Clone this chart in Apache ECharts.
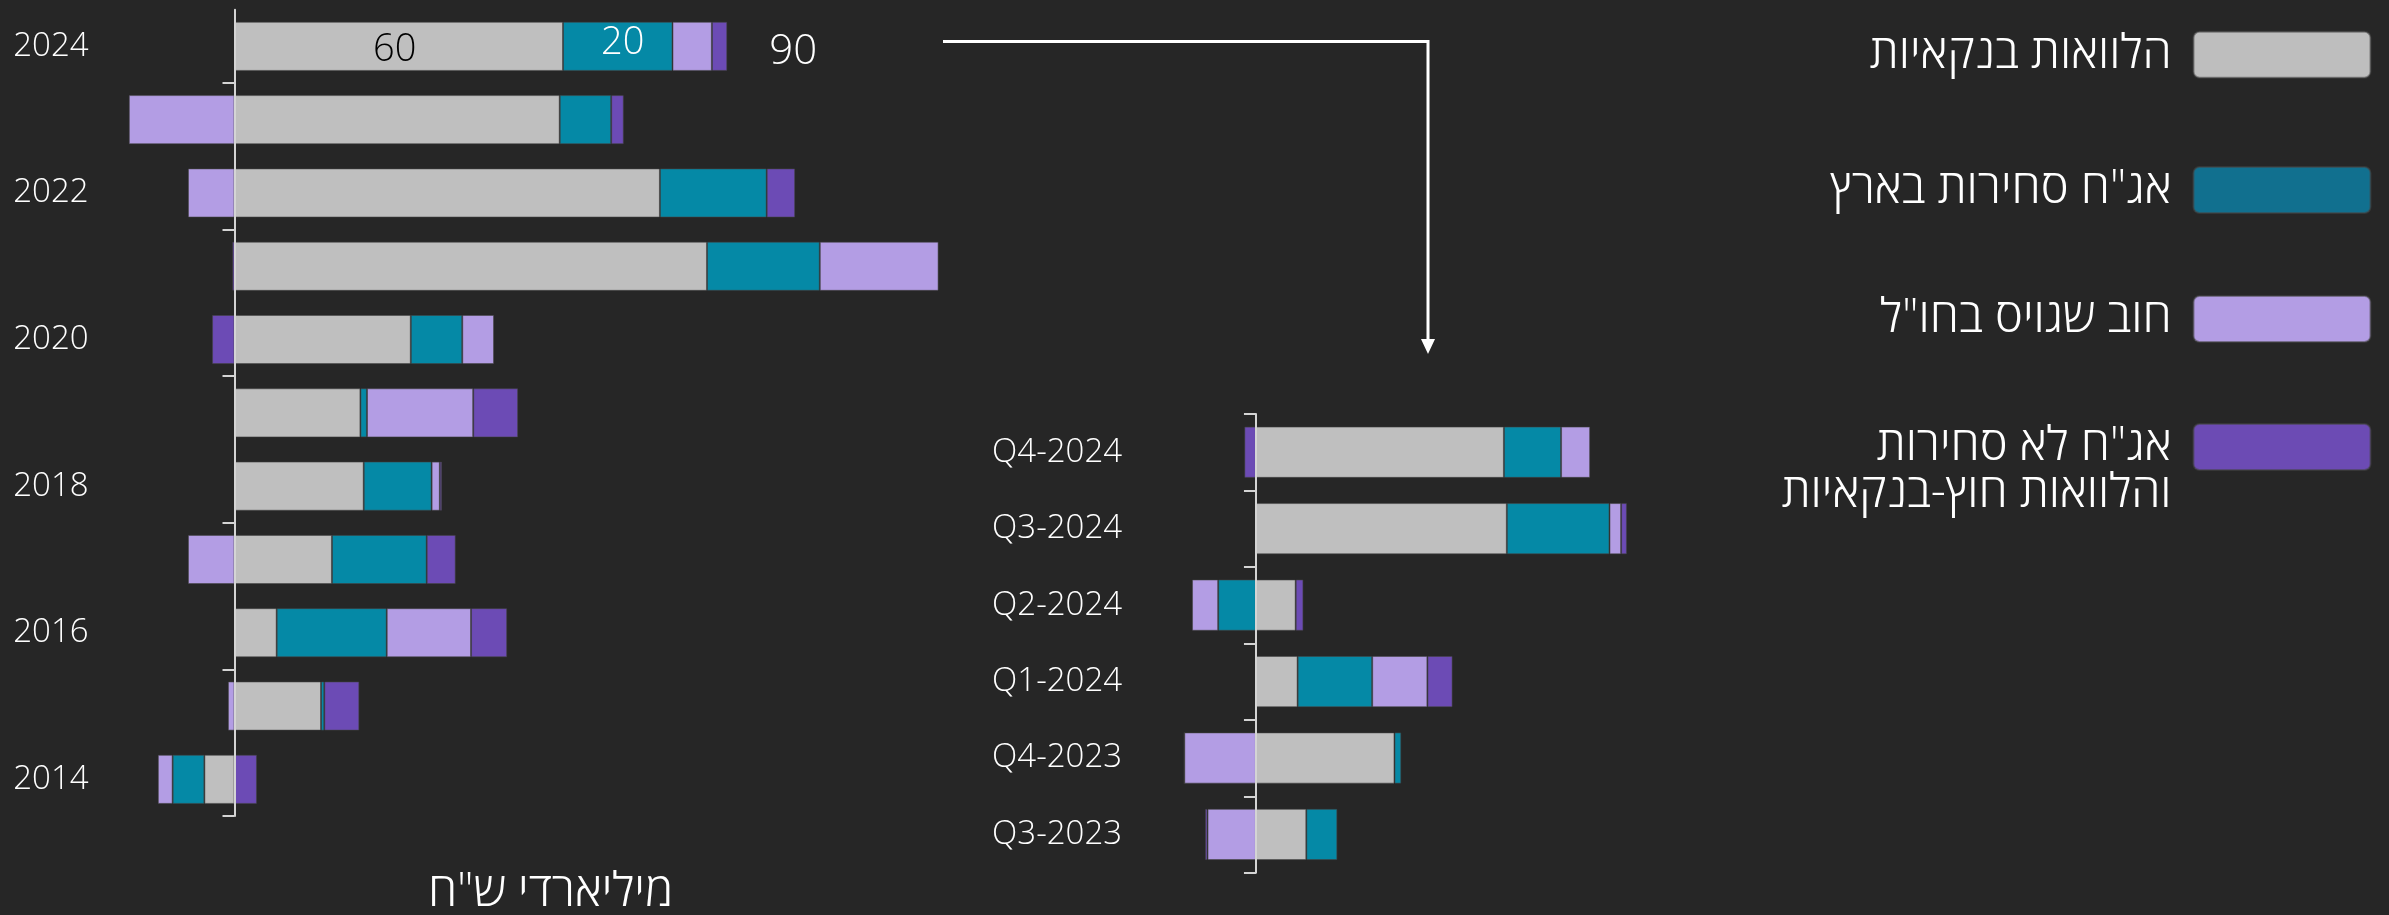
<!DOCTYPE html>
<html>
<head>
<meta charset="utf-8">
<script src="https://cdn.jsdelivr.net/npm/echarts@6/dist/echarts.min.js"></script>
<style>
html,body{margin:0;padding:0;background:#262626;}
#c{width:2389px;height:915px;}
</style>
</head>
<body>
<div id="c"></div>
<script>
// ---- data ----
const seriesNames = ['הלוואות בנקאיות', 'אג"ח סחירות בארץ', 'חוב שגויס בחו"ל', 'אג"ח לא סחירות\nוהלוואות חוץ-בנקאיות'];

const yearCats = ['2014','2015','2016','2017','2018','2019','2020','2021','2022','2023','2024'];
const yearBank        = [-5.5, 15.8,  7.7, 17.8, 23.6, 23.0, 32.2, 86.3, 77.7, 59.4, 60];
const yearTradable    = [-5.8,  0.6, 20.1, 17.3, 12.4,  1.2,  9.4, 20.6, 19.5,  9.4, 20];
const yearForeign     = [-2.7, -1.2, 15.4, -8.5,  1.5, 19.4,  5.8, 21.7, -8.5, -19.3, 7.2];
const yearNonTradable = [ 4.1,  6.4,  6.6,  5.3,  0.4,  8.2, -4.1, -0.4,  5.2,  2.3, 2.8];

const quarterCats = ['Q3-2023','Q4-2023','Q1-2024','Q2-2024','Q3-2024','Q4-2024'];
const qBank        = [ 5.2, 14.3, 4.3,  4.1, 25.9, 25.6];
const qTradable    = [ 3.2,  0.7, 7.7, -3.9, 10.6,  5.9];
const qForeign     = [-5.0, -7.4, 5.7, -2.7,  1.2,  3.0];
const qNonTradable = [-0.25, 0,   2.6,  0.8,  0.6, -1.2];

// ---- styles ----
const FONT = "'Open Sans', 'Noto Sans', 'DejaVu Sans', sans-serif";
const colors = ['#BFBFBF', '#0589A6', '#B39DE4', '#6C4BB5'];
const legendColors = ['#BEBEBE', '#11708F', '#B39DE4', '#6C4BB4'];

// annual axis drawn newest-first from the top (inverse axis)
const rev = a => a.slice().reverse();
const yCatsR = rev(yearCats);
const yBankR = rev(yearBank), yTradR = rev(yearTradable), yForR = rev(yearForeign), yNonR = rev(yearNonTradable);
const latestIdx = yCatsR.indexOf('2024');

function yearTotal(i) {
  return yBankR[i] + yTradR[i] + yForR[i] + yNonR[i];
}

const axisLineStyle = { color: '#D4D4D4', width: 2 };

function barSeries(name, data, idx, axisIdx, stack, extra) {
  return Object.assign({
    name: name,
    type: 'bar',
    stack: stack,
    xAxisIndex: axisIdx,
    yAxisIndex: axisIdx,
    data: data,
    barCategoryGap: '33%',
    itemStyle: { color: colors[idx], borderColor: 'rgba(70,70,70,0.55)', borderWidth: 1 },
    emphasis: { disabled: true }
  }, extra || {});
}

const swatchPath = 'path://M6,0H171A6,6,0,0,1,177,6V40A6,6,0,0,1,171,46H6A6,6,0,0,1,0,40V6A6,6,0,0,1,6,0Z';
const legendTops = [30.7, 166, 295, 376.5];
const legends = seriesNames.map((n, i) => ({
  data: [{ name: n, itemStyle: { color: legendColors[i] } }],
  right: 17.5,
  top: legendTops[i],
  padding: 0,
  orient: 'vertical',
  align: 'right',
  icon: swatchPath,
  itemWidth: 177,
  itemHeight: 46,
  selectedMode: false,
  formatter: i === 3 ? (name => '\n' + name) : (name => name),
  textStyle: {
    color: '#FFFFFF', fontSize: 47, fontFamily: FONT, fontWeight: 300,
    lineHeight: i === 3 ? 47 : 46, padding: [0, 17, 0, 0]
  }
}));

const chart = echarts.init(document.getElementById('c'));
chart.setOption({
  backgroundColor: '#262626',
  animation: false,
  textStyle: { fontFamily: FONT },
  title: {
    text: 'מיליארדי ש"ח',
    left: 428, top: 869,
    padding: 0,
    textStyle: { color: '#FFFFFF', fontSize: 47, fontWeight: 300, fontFamily: FONT }
  },
  legend: legends,
  grid: [
    { left: 97.625, width: 903.375, top: 9.7, height: 806.3, containLabel: false, outerBoundsMode: 'none' },
    { left: 1159.1, width: 484.3, top: 414, height: 458.7, containLabel: false, outerBoundsMode: 'none' }
  ],
  xAxis: [
    { type: 'value', gridIndex: 0, min: -25, max: 140, show: false },
    { type: 'value', gridIndex: 1, min: -10, max: 40, show: false }
  ],
  yAxis: [
    {
      type: 'category', gridIndex: 0, data: yCatsR, inverse: true, z: 5,
      axisLine: { onZero: true, lineStyle: axisLineStyle },
      axisTick: { show: true, length: 12, interval: (i) => i % 2 === 1, lineStyle: axisLineStyle },
      axisLabel: { interval: 1, margin: 9, color: '#FFFFFF', fontSize: 33, fontWeight: 300, fontFamily: FONT },
      splitLine: { show: false }
    },
    {
      type: 'category', gridIndex: 1, data: quarterCats, z: 5,
      axisLine: { onZero: true, lineStyle: axisLineStyle },
      axisTick: { show: true, length: 12, interval: 0, lineStyle: axisLineStyle },
      axisLabel: { interval: 0, margin: 37, color: '#FFFFFF', fontSize: 33, fontWeight: 300, fontFamily: FONT },
      splitLine: { show: false }
    }
  ],
  graphic: [
    { type: 'polyline', z: 10, shape: { points: [[943, 41.5], [1428, 41.5], [1428, 341]] },
      style: { stroke: '#FFFFFF', lineWidth: 3, fill: null } },
    { type: 'polygon', z: 10, shape: { points: [[1421, 339], [1435, 339], [1428, 354]] },
      style: { fill: '#FFFFFF' } }
  ],
  series: [
    barSeries(seriesNames[0], yBankR, 0, 0, 'year', {
      label: { show: true, position: 'inside', color: '#000000', fontSize: 38, fontWeight: 300, fontFamily: FONT,
        offset: [-4, 4],
        formatter: p => p.dataIndex === latestIdx ? String(Math.round(p.value)) : '' }
    }),
    barSeries(seriesNames[1], yTradR, 1, 0, 'year', {
      label: { show: true, position: 'inside', color: '#FFFFFF', fontSize: 38, fontWeight: 300, fontFamily: FONT,
        offset: [5, -3],
        formatter: p => p.dataIndex === latestIdx ? String(Math.round(p.value)) : '' }
    }),
    barSeries(seriesNames[2], yForR, 2, 0, 'year'),
    barSeries(seriesNames[3], yNonR, 3, 0, 'year', {
      label: { show: true, position: 'right', distance: 42, color: '#FFFFFF', fontSize: 42, fontWeight: 300, fontFamily: FONT,
        offset: [0, 6],
        formatter: p => p.dataIndex === latestIdx ? String(Math.round(yearTotal(p.dataIndex))) : '' }
    }),
    barSeries(seriesNames[0], qBank, 0, 1, 'quarter'),
    barSeries(seriesNames[1], qTradable, 1, 1, 'quarter'),
    barSeries(seriesNames[2], qForeign, 2, 1, 'quarter'),
    barSeries(seriesNames[3], qNonTradable, 3, 1, 'quarter')
  ]
});
</script>
</body>
</html>
